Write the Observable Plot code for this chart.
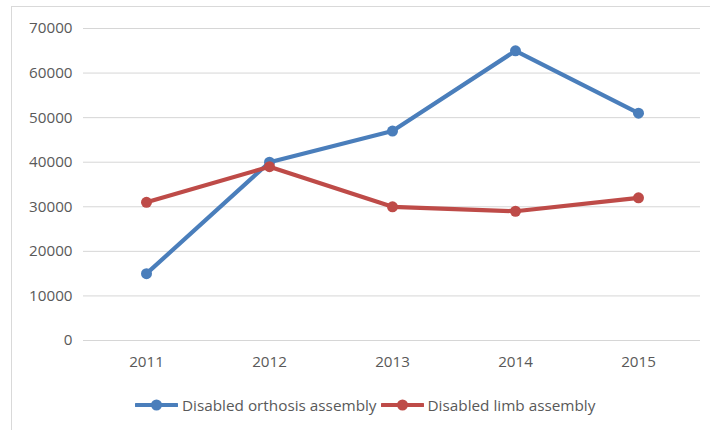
<!DOCTYPE html>
<html>
<head>
<meta charset="utf-8">
<script src="https://cdn.jsdelivr.net/npm/d3@7"></script>
<script src="https://cdn.jsdelivr.net/npm/@observablehq/plot@0.6"></script>
<style>
  html, body { margin: 0; padding: 0; background: #fff; }
  body { width: 710px; height: 430px; overflow: hidden; position: relative; font-family: "Open Sans", sans-serif; }
  #frame { position: absolute; left: 11px; top: 6px; width: 710px; height: 430px; border-left: 1px solid #d9d9d9; border-top: 1px solid #d9d9d9; box-sizing: border-box; }
  #legend { position: absolute; left: 123px; top: 388px; height: 20px; display: flex; align-items: center; font-size: 15.3px; color: #595959; white-space: nowrap; }
  #legend .item { display: flex; align-items: center; }
  #legend svg { margin-right: 4px; }
  #legend .item + .item { margin-left: 4px; }
</style>
</head>
<body>
<div id="frame">
  <div id="chart"></div>
  <div id="legend"></div>
</div>
<script>
const years = ["2011", "2012", "2013", "2014", "2015"];
const orthosis = [15000, 40000, 47000, 65000, 51000];
const limb = [31000, 39000, 30000, 29000, 32000];
const seriesNames = ["Disabled orthosis assembly", "Disabled limb assembly"];
const seriesColors = ["#4a7ebb", "#be4b48"];
const yTicks = [0, 10000, 20000, 30000, 40000, 50000, 60000, 70000];

const seriesValues = [orthosis, limb];
const data = seriesNames.flatMap((name, i) =>
  years.map((year, j) => ({ series: name, year, value: seriesValues[i][j] }))
);

const seriesMarks = seriesNames.flatMap(name => {
  const d = data.filter(r => r.series === name);
  return [
    Plot.line(d, { x: "year", y: "value", stroke: "series", strokeWidth: 4.2, strokeLinejoin: "round", strokeLinecap: "round" }),
    Plot.dot(d, { x: "year", y: "value", fill: "series", r: 5.5 })
  ];
});

const chart = Plot.plot({
  width: 698,
  height: 385,
  marginLeft: 71,
  marginRight: 10,
  marginTop: 21,
  marginBottom: 52,
  style: { fontFamily: "Open Sans", fontSize: "15.2px", color: "#595959", background: "white", overflow: "visible" },
  x: { type: "point", domain: years, padding: 0.5, label: null },
  y: { domain: [0, 70000], label: null },
  color: { domain: seriesNames, range: seriesColors },
  marks: [
    Plot.gridY(yTicks, { stroke: "#d6d6d6", strokeOpacity: 1, strokeWidth: 1 }),
    Plot.axisY(yTicks, { tickSize: 0, tickPadding: 11, label: null, tickFormat: d3.format("d"), fill: "#595959" }),
    Plot.axisX({ tickSize: 0, tickPadding: 16, label: null, fill: "#595959" }),
    ...seriesMarks
  ]
});
document.getElementById("chart").appendChild(chart);

const legend = document.getElementById("legend");
seriesNames.forEach((name, i) => {
  const item = document.createElement("div");
  item.className = "item";
  item.innerHTML = `<svg width="43" height="14" viewBox="0 0 43 14"><line x1="1" y1="7" x2="42" y2="7" stroke="${seriesColors[i]}" stroke-width="4" stroke-linecap="round"/><circle cx="21.5" cy="7" r="5.5" fill="${seriesColors[i]}"/></svg><span>${name}</span>`;
  legend.appendChild(item);
});
</script>
</body>
</html>
